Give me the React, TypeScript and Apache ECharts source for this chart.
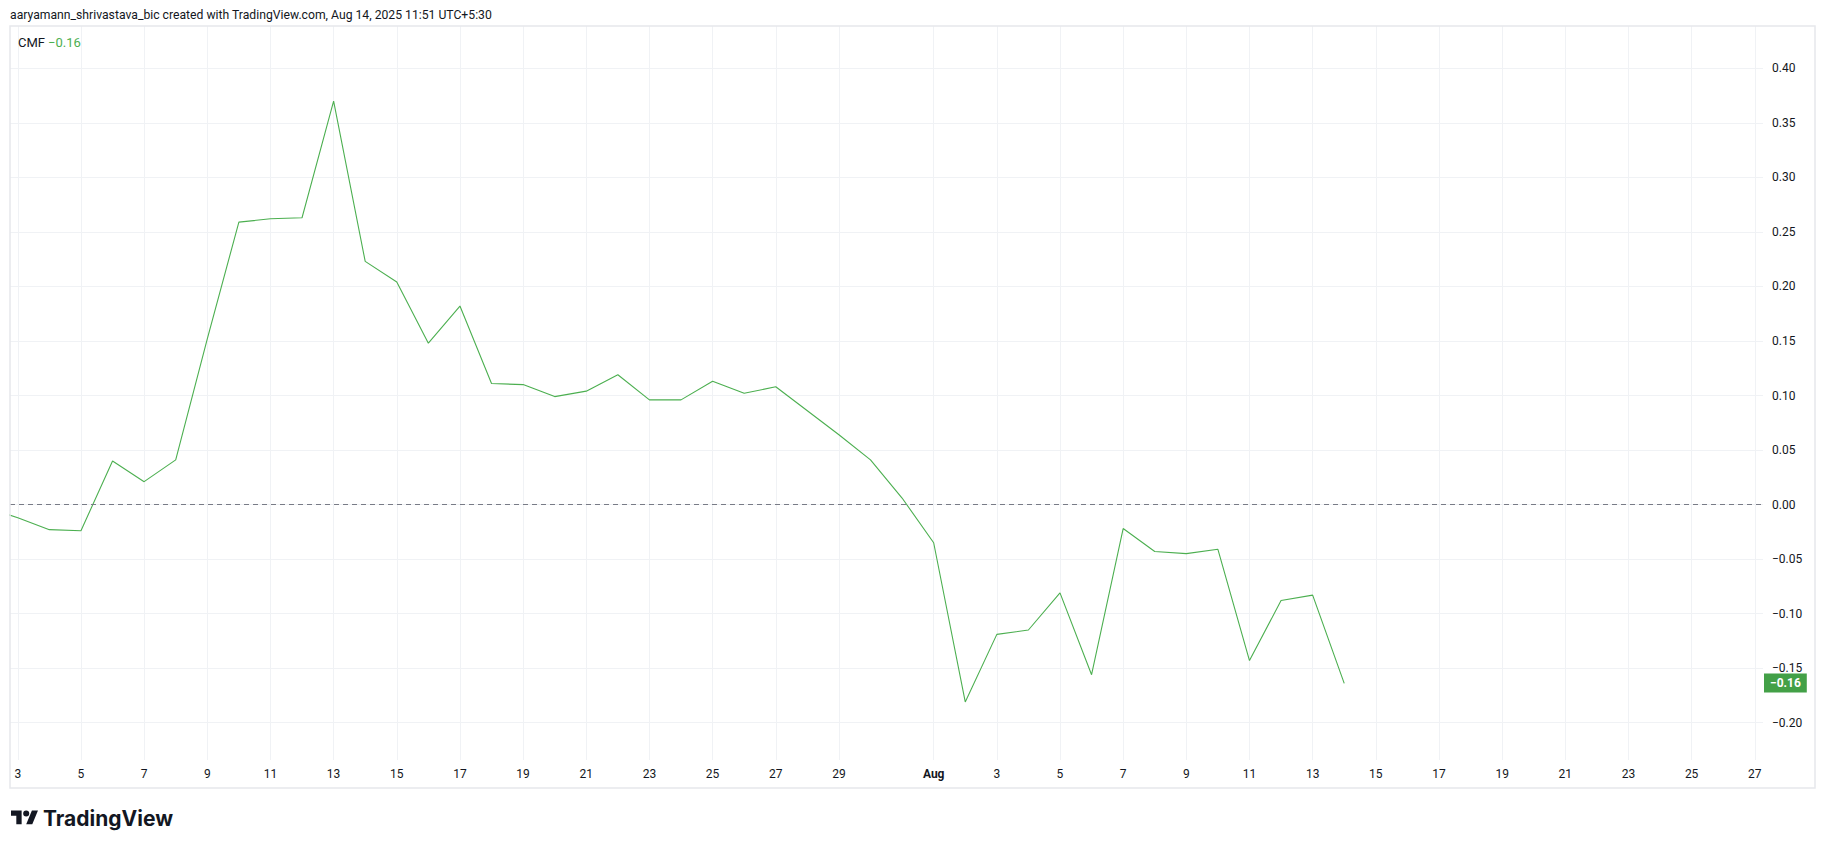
import React, { useEffect, useRef } from 'react';
import * as echarts from 'echarts';

const dates = [
  '2025-07-02', '2025-07-03', '2025-07-04', '2025-07-05', '2025-07-06', '2025-07-07', '2025-07-08',
  '2025-07-09', '2025-07-10', '2025-07-11', '2025-07-12', '2025-07-13', '2025-07-14', '2025-07-15',
  '2025-07-16', '2025-07-17', '2025-07-18', '2025-07-19', '2025-07-20', '2025-07-21', '2025-07-22',
  '2025-07-23', '2025-07-24', '2025-07-25', '2025-07-26', '2025-07-27', '2025-07-28', '2025-07-29',
  '2025-07-30', '2025-07-31', '2025-08-01', '2025-08-02', '2025-08-03', '2025-08-04', '2025-08-05',
  '2025-08-06', '2025-08-07', '2025-08-08', '2025-08-09', '2025-08-10', '2025-08-11', '2025-08-12',
  '2025-08-13', '2025-08-14',
];

const cmf = [
  -0.003, -0.012, -0.023, -0.024, 0.040, 0.021, 0.041,
  0.152, 0.259, 0.262, 0.263, 0.370, 0.223, 0.204,
  0.148, 0.182, 0.111, 0.110, 0.099, 0.104, 0.119,
  0.096, 0.096, 0.113, 0.102, 0.108, 0.086, 0.064,
  0.041, 0.006, -0.035, -0.181, -0.119, -0.115, -0.081,
  -0.156, -0.022, -0.043, -0.045, -0.041, -0.143, -0.088,
  -0.083, -0.164,
];

const xTickDates = [
  '2025-07-03', '2025-07-05', '2025-07-07', '2025-07-09', '2025-07-11', '2025-07-13', '2025-07-15',
  '2025-07-17', '2025-07-19', '2025-07-21', '2025-07-23', '2025-07-25', '2025-07-27', '2025-07-29',
  '2025-08-01', '2025-08-03', '2025-08-05', '2025-08-07', '2025-08-09', '2025-08-11', '2025-08-13',
  '2025-08-15', '2025-08-17', '2025-08-19', '2025-08-21', '2025-08-23', '2025-08-25', '2025-08-27',
];

const yTicks = [-0.2, -0.15, -0.1, -0.05, 0, 0.05, 0.1, 0.15, 0.2, 0.25, 0.3, 0.35, 0.4];

const X_MIN = -0.247;
const X_MAX = 55.26;
const Y_MIN = -0.2342;
const Y_MAX = 0.4388;

const BASE = Date.UTC(2025, 6, 3);
const DAY = 86400000;
const MONTHS = ['Jan', 'Feb', 'Mar', 'Apr', 'May', 'Jun', 'Jul', 'Aug', 'Sep', 'Oct', 'Nov', 'Dec'];

const dayIndex = (s: string) => {
  const [y, m, d] = s.split('-').map(Number);
  return (Date.UTC(y, m - 1, d) - BASE) / DAY;
};

const idxLabel = (i: number) => {
  const t = new Date(BASE + Math.round(i) * DAY);
  const d = t.getUTCDate();
  return d === 1 ? '{m|' + MONTHS[t.getUTCMonth()] + '}' : String(d);
};

const fmt = (v: number) => {
  const a = Math.abs(v).toFixed(2);
  return (v < -1e-9 ? '\u2212' : '') + a;
};

const LOGO_D =
  'M14 22H7V11H0V4h14v18zM24 8a4 4 0 1 1-8 0a4 4 0 1 1 8 0zM28 22h-8l7.5-18h8L28 22z';

let registered = false;

export default function App() {
  const ref = useRef<HTMLDivElement>(null);

  useEffect(() => {
    if (!ref.current) return;
    if (!registered) {
      echarts.graphic.registerShape('tvlogo', echarts.graphic.extendPath(LOGO_D, {}) as any);
      registered = true;
    }
    const chart = echarts.init(ref.current, undefined, { renderer: 'svg' });
    const last = cmf[cmf.length - 1];
    const font = 'Roboto';
    const textColor = '#131722';
    const gridColor = '#f0f2f5';

    chart.setOption({
      animation: false,
      backgroundColor: '#ffffff',
      grid: { left: 10, right: 62, top: 26, bottom: 89, containLabel: false },
      xAxis: {
        type: 'value',
        min: X_MIN,
        max: X_MAX,
        axisLine: { show: false },
        axisTick: { show: false, customValues: xTickDates.map(dayIndex) },
        axisLabel: {
          customValues: xTickDates.map(dayIndex),
          formatter: idxLabel,
          color: textColor,
          fontSize: 12,
          fontFamily: font,
          margin: 8,
          rich: { m: { fontWeight: 'bold', fontSize: 12, fontFamily: font, color: textColor } },
        },
        splitLine: { show: true, lineStyle: { color: gridColor, width: 1 } },
      },
      yAxis: {
        type: 'value',
        position: 'right',
        min: Y_MIN,
        max: Y_MAX,
        axisLine: { show: false },
        axisTick: { show: false, customValues: yTicks },
        axisLabel: {
          customValues: yTicks,
          formatter: fmt,
          color: textColor,
          fontSize: 12,
          fontFamily: font,
          margin: 9,
        },
        splitLine: { show: true, lineStyle: { color: gridColor, width: 1 } },
      },
      series: [
        {
          type: 'line',
          data: dates.map((d, i) => [dayIndex(d), cmf[i]]),
          showSymbol: false,
          symbol: 'none',
          clip: true,
          lineStyle: { color: '#4caf50', width: 1.1 },
          markLine: {
            silent: true,
            symbol: ['none', 'none'],
            animation: false,
            data: [
              {
                yAxis: 0,
                lineStyle: { type: [5, 4], color: '#787b86', width: 1 },
                label: { show: false },
              },
              {
                yAxis: last,
                lineStyle: { color: 'rgba(0,0,0,0)', width: 1 },
                label: {
                  show: true,
                  position: 'end',
                  distance: 1,
                  offset: [0, 4],
                  formatter: fmt(last),
                  backgroundColor: '#43a047',
                  color: '#ffffff',
                  fontSize: 12,
                  fontWeight: 'bold',
                  fontFamily: font,
                  padding: [4, 6, 3, 6],
                },
              },
            ],
          },
        },
      ],
      graphic: [
        {
          type: 'text',
          x: 10,
          y: 15,
          style: {
            text: 'aaryamann_shrivastava_bic created with TradingView.com, Aug 14, 2025 11:51 UTC+5:30',
            fill: textColor,
            fontSize: 12.2,
            fontFamily: font,
            verticalAlign: 'middle',
          },
        },
        {
          type: 'rect',
          shape: { x: 10, y: 26, width: 1805, height: 762 },
          style: { fill: 'none', stroke: '#e6e8ec', lineWidth: 1.5 },
          z: 100,
        },
        {
          type: 'text',
          x: 18,
          y: 42,
          style: {
            text: 'CMF',
            fill: textColor,
            fontSize: 13,
            fontFamily: font,
            verticalAlign: 'middle',
          },
          z: 101,
        },
        {
          type: 'text',
          x: 48,
          y: 42,
          style: {
            text: fmt(last),
            fill: '#4caf50',
            fontSize: 13,
            fontFamily: font,
            verticalAlign: 'middle',
          },
          z: 101,
        },
        {
          type: 'tvlogo',
          x: 11,
          y: 807.5,
          scaleX: 0.76,
          scaleY: 0.76,
          style: { fill: textColor },
        },
        {
          type: 'text',
          x: 43,
          y: 818,
          style: {
            text: 'TradingView',
            fill: textColor,
            fontSize: 21,
            fontWeight: 'bold',
            fontFamily: 'Inter',
            verticalAlign: 'middle',
          },
        },
      ],
    });

    return () => chart.dispose();
  }, []);

  return (
    <div
      ref={ref}
      style={{ position: 'fixed', left: 0, top: 0, width: 1825, height: 849, background: '#fff' }}
    />
  );
}
